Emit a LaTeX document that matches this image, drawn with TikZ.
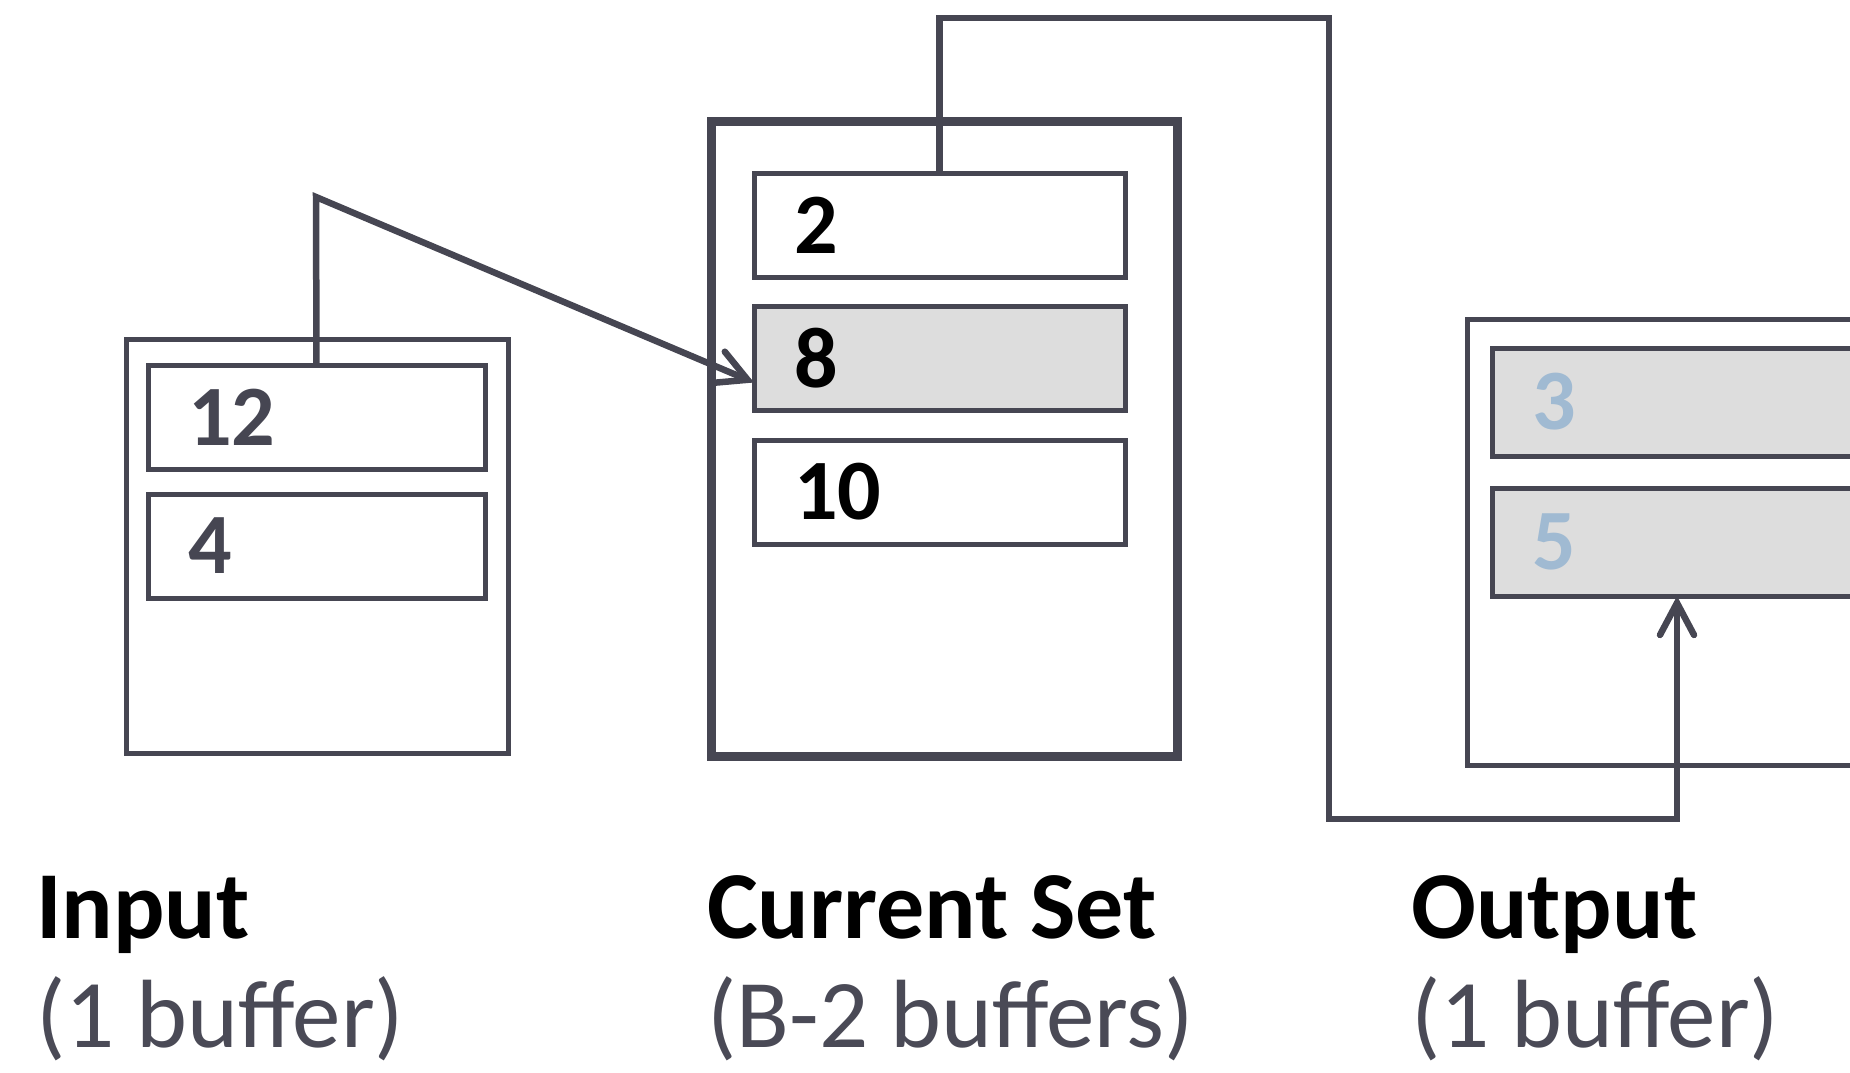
\documentclass[tikz,border=0pt]{standalone}
\usepackage{fontspec}
\setmainfont{Carlito}
\usetikzlibrary{positioning, arrows.meta}

\definecolor{lineC}{RGB}{70,70,82}
\definecolor{slotgray}{RGB}{221,221,221}
\definecolor{paleblue}{RGB}{160,186,210}
\definecolor{captiongray}{RGB}{74,74,86}

\begin{document}
\begin{tikzpicture}[
    x=1pt, y=-1pt,
    % Define the style for the buffer frames
    frame/.style={
        draw=lineC,
        line width=5pt,
        anchor=north west,
        inner sep=0pt,
        outer sep=0pt
    },
    % Define the style for the pages inside a frame
    slot/.style={
        draw=lineC,
        line width=5pt,
        anchor=north west,
        inner xsep=40pt,
        inner ysep=0pt,
        outer sep=0pt,
        text width=#1,
        align=left,
        minimum height=104pt,
        font=\fontsize{86}{86}\selectfont\bfseries
    },
    % Define the style for the arrows
    link/.style={
        draw=lineC,
        line width=6.5pt,
        -{Straight Barb[length=32pt, width=34pt, line cap=round]}
    },
    heading/.style={
        anchor=base west,
        inner sep=0pt,
        font=\fontsize{96}{96}\selectfont\bfseries
    },
    caption/.style={
        anchor=base west,
        inner sep=0pt,
        text=captiongray,
        font=\fontsize{97}{97}\selectfont
    }
]
    \useasboundingbox (0,0) rectangle (1850,1072);

    % Place the buffer frames
    \node [frame, minimum width=382pt, minimum height=414pt] (inbuf) at (126,339) {};
    \node [frame, line width=9pt, minimum width=466pt, minimum height=635pt] (curbuf) at (711.5,121.5) {};
    \node [frame, minimum width=430pt, minimum height=446pt] (outbuf) at (1467,319) {};

    % Place the pages
    \node [slot=257pt, text=lineC] (in12) at (148,365) {12};
    \node [slot=257pt, text=lineC, below=25pt of in12] (in4) {4};

    \node [slot=291pt] (cur2) at (754,173) {2};
    \node [slot=291pt, fill=slotgray, below=29.5pt of cur2] (cur8) {8};
    \node [slot=291pt, below=29.5pt of cur8] (cur10) {10};

    \node [slot=290pt, minimum height=108pt, fill=slotgray, text=paleblue] (out3) at (1492,348) {3};
    \node [slot=290pt, minimum height=108pt, fill=slotgray, text=paleblue, below=32pt of out3] (out5) {5};

    % Draw the arrows
    \coordinate (lift) at (316,197);
    \draw [link] (in12.north) -- (lift) -- ([yshift=-24pt]cur8.west);

    \coordinate (topR) at (1329,18);
    \coordinate (botR) at (1329,819);
    \draw [link] (cur2.north) |- (topR) -- (botR) -| (out5.south);

    % Place the captions
    \node [heading] (inT) at (36,938) {Input};
    \node [caption] (inC) at (36,1047) {(1 buffer)};
    \node [heading] (curT) at (707,938) {Current Set};
    \node [caption] (curC) at (707,1047) {(B-2 buffers)};
    \node [heading] (outT) at (1411,938) {Output};
    \node [caption] (outC) at (1411,1047) {(1 buffer)};

\end{tikzpicture}
\end{document}
